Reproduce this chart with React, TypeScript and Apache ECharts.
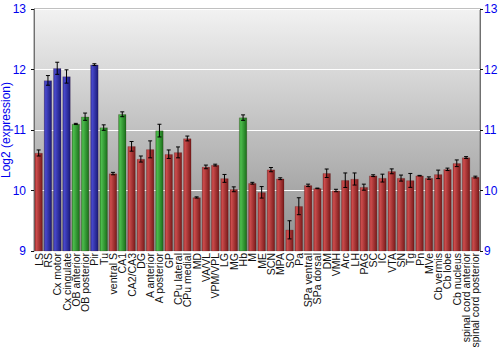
import React, { useEffect, useRef } from "react";
import * as echarts from "echarts";

const categories = [
  "LS", "RS", "Cx motor", "Cx cingulate", "OB anterior", "OB posterior", "Pir", "Tu",
  "ventral S", "CA1", "CA2/CA3", "DG", "A anterior", "A posterior", "GP", "CPu lateral",
  "CPu medial", "MD", "VA/VL", "VPM/VPL", "LG", "MG", "Hb", "M", "ME", "SCN", "MPA", "SO",
  "Pa", "SPa ventral", "SPa dorsal", "DM", "VMH", "Arc", "LH", "PAG", "SC", "IC", "VTA",
  "SN", "Tg", "Pn", "MVe", "Cb vermis", "Cb lobe", "Cb nucleus", "spinal cord anterior",
  "spinal cord posterior",
];

const values = [
  10.62, 11.82, 12.02, 11.885, 11.1, 11.22, 12.08, 11.04,
  10.28, 11.26, 10.73, 10.52, 10.68, 10.99, 10.6, 10.63,
  10.86, 9.885, 10.39, 10.42, 10.2, 10.02, 11.205, 10.12, 9.97, 10.345, 10.195, 9.35,
  9.74, 10.085, 10.035, 10.285, 10.0, 10.17, 10.19, 10.055, 10.245, 10.205, 10.317,
  10.205, 10.167, 10.245, 10.205, 10.267, 10.35, 10.45, 10.545,
  10.222,
];

const errors = [
  0.05, 0.08, 0.1, 0.11, 0.01, 0.06, 0.015, 0.045,
  0.02, 0.04, 0.08, 0.05, 0.14, 0.105, 0.07, 0.09,
  0.04, 0.01, 0.03, 0.015, 0.065, 0.04, 0.045, 0.015, 0.095, 0.035, 0.015, 0.15,
  0.14, 0.02, 0.005, 0.07, 0.02, 0.12, 0.1, 0.05, 0.015, 0.065, 0.04,
  0.05, 0.115, 0.005, 0.02, 0.07, 0.02, 0.055, 0.015,
  0.015,
];

// r = red, b = blue, g = green
const groups = [
  "r", "b", "b", "b", "g", "g", "b", "g",
  "r", "g", "r", "r", "r", "g", "r", "r",
  "r", "r", "r", "r", "r", "r", "g", "r", "r", "r", "r", "r",
  "r", "r", "r", "r", "r", "r", "r", "r", "r", "r", "r",
  "r", "r", "r", "r", "r", "r", "r", "r",
  "r",
];

const yTicks = [9, 10, 11, 12, 13];

const palette: Record<string, [string, string, string]> = {
  r: ["#a33030", "#cc4c4c", "#781a1a"],
  b: ["#30309e", "#4848cc", "#1a1a78"],
  g: ["#2f942f", "#4cbc4c", "#1a6e1a"],
};

function grad(k: string) {
  const c = palette[k];
  return new echarts.graphic.LinearGradient(0, 0, 1, 0, [
    { offset: 0, color: c[0] },
    { offset: 0.2, color: c[1] },
    { offset: 1, color: c[2] },
  ]);
}

export default function App() {
  const ref = useRef<HTMLDivElement>(null);

  useEffect(() => {
    if (!ref.current) return;
    const chart = echarts.init(ref.current, undefined, { renderer: "svg" });
    const font = "'Liberation Sans', Arial, sans-serif";
    const yLabel = { color: "#0000ee", fontSize: 12, fontFamily: font };

    chart.setOption({
      animation: false,
      grid: {
        left: 34,
        right: 20,
        top: 9,
        bottom: 99,
        outerBoundsMode: "none",
        containLabel: false,
        show: true,
        borderWidth: 1,
        borderColor: "#808080",
        backgroundColor: new echarts.graphic.LinearGradient(0, 0, 0, 1, [
          { offset: 0, color: "#f2f2f2" },
          { offset: 1, color: "#8e8e8e" },
        ]),
      },
      xAxis: {
        type: "category",
        data: categories,
        axisLine: { show: false },
        axisTick: { show: false },
        axisLabel: {
          rotate: 90,
          interval: 0,
          margin: 2,
          fontSize: 10.5,
          color: "#111",
          fontFamily: font,
        },
      },
      yAxis: [
        {
          type: "value",
          min: yTicks[0],
          max: yTicks[yTicks.length - 1],
          interval: 1,
          name: "Log2 (expression)",
          nameLocation: "middle",
          nameGap: 22,
          nameMoveOverlap: false,
          nameTextStyle: { color: "#0000ee", fontSize: 12, fontFamily: font },
          axisLine: { show: true, lineStyle: { color: "#707070", width: 1 } },
          axisTick: { show: true, length: 3, lineStyle: { color: "#111" } },
          axisLabel: { ...yLabel, margin: 8 },
          splitLine: { show: true, lineStyle: { color: "#ffffff", width: 1 } },
        },
        {
          type: "value",
          position: "right",
          min: yTicks[0],
          max: yTicks[yTicks.length - 1],
          interval: 1,
          axisLine: { show: true, lineStyle: { color: "#707070", width: 1 } },
          axisTick: { show: true, length: 3, lineStyle: { color: "#111" } },
          axisLabel: { ...yLabel, margin: 4 },
          splitLine: { show: false },
        },
      ],
      series: [
        {
          type: "bar",
          barWidth: "86%",
          data: values.map((v, i) => ({
            value: v,
            itemStyle: { color: grad(groups[i]), borderColor: "rgba(60,0,0,0.35)", borderWidth: 0.5 },
          })),
        },
        {
          type: "custom",
          data: values.map((v, i) => [i, v - errors[i], v + errors[i]]),
          renderItem: (params: any, api: any) => {
            const x = api.value(0);
            const lo = api.coord([x, api.value(1)]);
            const hi = api.coord([x, api.value(2)]);
            const cap = 2;
            const style = { stroke: "#000", lineWidth: 1 };
            return {
              type: "group",
              children: [
                { type: "line", shape: { x1: lo[0], y1: lo[1], x2: hi[0], y2: hi[1] }, style },
                { type: "line", shape: { x1: lo[0] - cap, y1: lo[1], x2: lo[0] + cap, y2: lo[1] }, style },
                { type: "line", shape: { x1: hi[0] - cap, y1: hi[1], x2: hi[0] + cap, y2: hi[1] }, style },
              ],
            };
          },
          z: 5,
        },
      ],
    });

    return () => chart.dispose();
  }, []);

  return (
    <div
      ref={ref}
      style={{ position: "absolute", left: 0, top: 0, width: 500, height: 350 }}
    />
  );
}
